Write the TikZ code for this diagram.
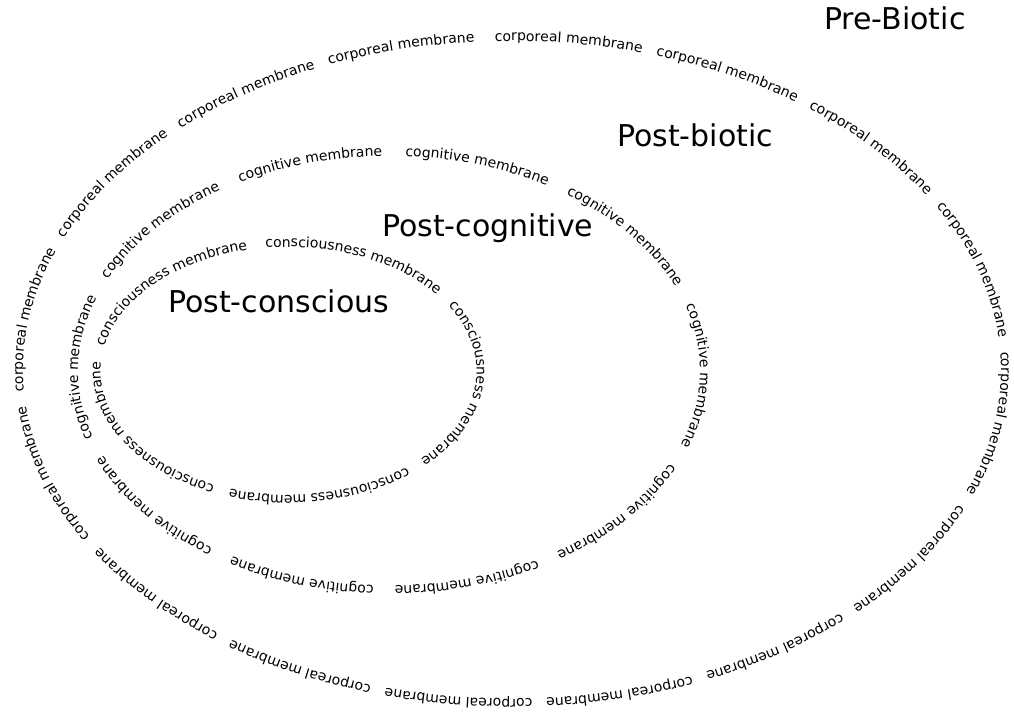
\documentclass[tikz,border=0pt]{standalone}
\usepackage{fontspec}
\setmainfont{DejaVu Sans}
\usetikzlibrary{decorations.text}

\newcommand{\membranefont}{\fontsize{14}{16}\selectfont}
% ring texts, one copy plus gap each
\def\corporealring{|\membranefont|corporeal membrane{\kern14.4pt}corporeal membrane{\kern14.4pt}corporeal membrane{\kern14.4pt}corporeal membrane{\kern14.4pt}corporeal membrane{\kern14.4pt}corporeal membrane{\kern14.4pt}corporeal membrane{\kern14.4pt}corporeal membrane{\kern14.4pt}corporeal membrane{\kern14.4pt}corporeal membrane{\kern14.4pt}corporeal membrane{\kern14.4pt}corporeal membrane{\kern14.4pt}corporeal membrane{\kern14.4pt}corporeal membrane{\kern14.4pt}corporeal membrane{\kern14.4pt}corporeal membrane}
\def\cognitivering{|\membranefont|cognitive membrane{\kern21.2pt}cognitive membrane{\kern21.2pt}cognitive membrane{\kern21.2pt}cognitive membrane{\kern21.2pt}cognitive membrane{\kern21.2pt}cognitive membrane{\kern21.2pt}cognitive membrane{\kern21.2pt}cognitive membrane{\kern21.2pt}cognitive membrane{\kern21.2pt}cognitive membrane}
\def\consciousring{|\membranefont|consciousness membrane{\kern15.8pt}consciousness membrane{\kern15.8pt}consciousness membrane{\kern15.8pt}consciousness membrane{\kern15.8pt}consciousness membrane}

\tikzset{
  ring/.style={decorate, decoration={text along path, text/.expand once=#1}},
  zone/.style={font=\fontsize{30}{36}\selectfont, inner sep=0pt, anchor=base west}
}

\begin{document}
\begin{tikzpicture}[x=1pt, y=1pt]
  \useasboundingbox (0,0) rectangle (1014,721);

  % Centres of the three membranes
  \coordinate (outerc) at (512,351);
  \coordinate (midc) at (389,350);
  \coordinate (innerc) at (288.5,350);

  % Corporeal membrane
  \path[ring=\corporealring] ([shift={(92:489 and 329)}]outerc)
    arc[start angle=92, end angle=-268, x radius=489, y radius=329];

  % Cognitive membrane
  \path[ring=\cognitivering] ([shift={(87:311 and 215)}]midc)
    arc[start angle=87, end angle=-273, x radius=311, y radius=215];

  % Consciousness membrane
  \path[ring=\consciousring] ([shift={(97:188 and 124)}]innerc)
    arc[start angle=97, end angle=-263, x radius=188, y radius=124];

  % Zone labels
  \node[zone] (prebiotic) at (824,691) {Pre-Biotic};
  \node[zone] (postbiotic) at (617,574) {Post-biotic};
  \node[zone] (postcognitive) at (382,484) {Post-cognitive};
  \node[zone] (postconscious) at (168,408) {Post-conscious};
\end{tikzpicture}
\end{document}
